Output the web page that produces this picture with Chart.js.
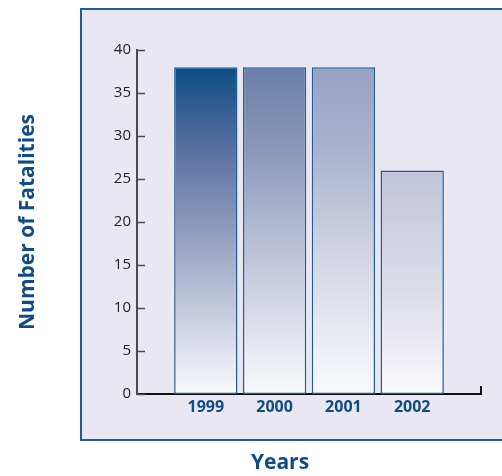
<!DOCTYPE html>
<html>
<head>
<meta charset="utf-8">
<style>
  html, body { margin: 0; padding: 0; background: #ffffff; }
  #wrap { width: 502px; height: 476px; }
</style>
<script src="https://cdn.jsdelivr.net/npm/chart.js@4/dist/chart.umd.min.js"></script>
</head>
<body>
<div id="wrap"><canvas id="chart" width="502" height="476"></canvas></div>
<script>
// Fatalities per year
const years = ['1999', '2000', '2001', '2002'];
const fatalities = [38, 38, 38, 26];
const yMax = 40;
const yStep = 5;
const xTitle = 'Years';
const yTitle = 'Number of Fatalities';

// Vertical fill ramps for each bar (top to bottom)
const barRamps = [
  [[0, '#0c4c84'], [0.25, '#5a6fa0'], [0.58, '#a2abc8'], [1, '#fafafd']],
  [[0, '#6a7fa8'], [0.25, '#8a98b9'], [0.58, '#c0c4d8'], [1, '#fafafd']],
  [[0, '#97a3c3'], [0.25, '#aab2cd'], [0.58, '#d3d5e3'], [1, '#fafafd']],
  [[0, '#c1c4d9'], [0.40, '#d6d7e5'], [0.66, '#e4e3ee'], [1, '#fafafd']]
];

// One empty slot on each side of the years
const labels = [''].concat(years, ['']);
const values = [null].concat(fatalities, [null]);

const BLUE = '#0f4c84';
const FONT = '"Open Sans", "Noto Sans", sans-serif';

const framePlugin = {
  id: 'frame',
  beforeDraw(chart) {
    const c = chart.ctx;
    c.save();
    c.fillStyle = '#e9e7f1';
    c.fillRect(80, 8, 430, 432);
    c.strokeStyle = '#1d5e9a';
    c.lineWidth = 2;
    c.beginPath();
    c.moveTo(520, 9);
    c.lineTo(81, 9);
    c.lineTo(81, 440);
    c.lineTo(520, 440);
    c.stroke();
    c.restore();
  },
  afterDraw(chart) {
    const c = chart.ctx;
    const area = chart.chartArea;
    const ys = chart.scales.y;
    c.save();
    // inward tick marks on the value axis
    c.strokeStyle = '#4a4a4a';
    c.lineWidth = 1.5;
    ys.ticks.forEach((t, i) => {
      const py = Math.round(ys.getPixelForTick(i)) + 0.5;
      c.beginPath();
      c.moveTo(area.left, py);
      c.lineTo(area.left + 8, py);
      c.stroke();
    });
    // end tick on the category axis
    c.strokeStyle = '#111';
    c.lineWidth = 2;
    c.beginPath();
    c.moveTo(area.right, area.bottom + 1);
    c.lineTo(area.right, area.bottom - 8);
    c.stroke();
    // axis titles
    c.fillStyle = BLUE;
    c.font = 'bold 21px ' + FONT;
    c.textAlign = 'center';
    c.textBaseline = 'middle';
    c.fillText(xTitle, 280, 463);
    c.translate(28, (area.top + area.bottom) / 2);
    c.rotate(-Math.PI / 2);
    c.fillText(yTitle, 0, 0);
    c.restore();
  }
};

function barFill(ctx) {
  const chart = ctx.chart;
  const i = ctx.dataIndex - 1;
  const ramp = barRamps[i] || barRamps[0];
  if (!chart.chartArea || ctx.raw == null) return ramp[0][1];
  const ys = chart.scales.y;
  const top = ys.getPixelForValue(ctx.raw);
  const bottom = ys.getPixelForValue(0);
  const g = chart.ctx.createLinearGradient(0, top, 0, bottom);
  ramp.forEach(s => g.addColorStop(s[0], s[1]));
  return g;
}

new Chart(document.getElementById('chart'), {
  type: 'bar',
  data: {
    labels: labels,
    datasets: [{
      data: values,
      backgroundColor: barFill,
      borderColor: '#1d5e9a',
      borderWidth: 1.5,
      borderSkipped: false,
      barPercentage: 0.92,
      categoryPercentage: 1.0
    }]
  },
  plugins: [framePlugin],
  options: {
    responsive: false,
    animation: false,
    events: [],
    layout: { padding: { left: 80, right: 21, top: 50, bottom: 52 } },
    plugins: { legend: { display: false }, tooltip: { enabled: false }, title: { display: false } },
    scales: {
      x: {
        offset: false,
        grid: { display: false, offset: false, drawTicks: false },
        border: { display: true, color: '#111', width: 2 },
        ticks: {
          color: BLUE,
          font: { family: FONT, size: 16, weight: 'bold' },
          padding: 4,
          maxRotation: 0,
          autoSkip: false
        },
        afterFit(scale) { scale.height = 30; }
      },
      y: {
        min: 0,
        max: yMax,
        grid: { display: false, drawTicks: false },
        border: { display: true, color: '#4a4a4a', width: 2 },
        ticks: {
          stepSize: yStep,
          color: '#222',
          font: { family: FONT, size: 15 },
          padding: 6
        },
        afterFit(scale) { scale.width = 57; }
      }
    }
  }
});
</script>
</body>
</html>
